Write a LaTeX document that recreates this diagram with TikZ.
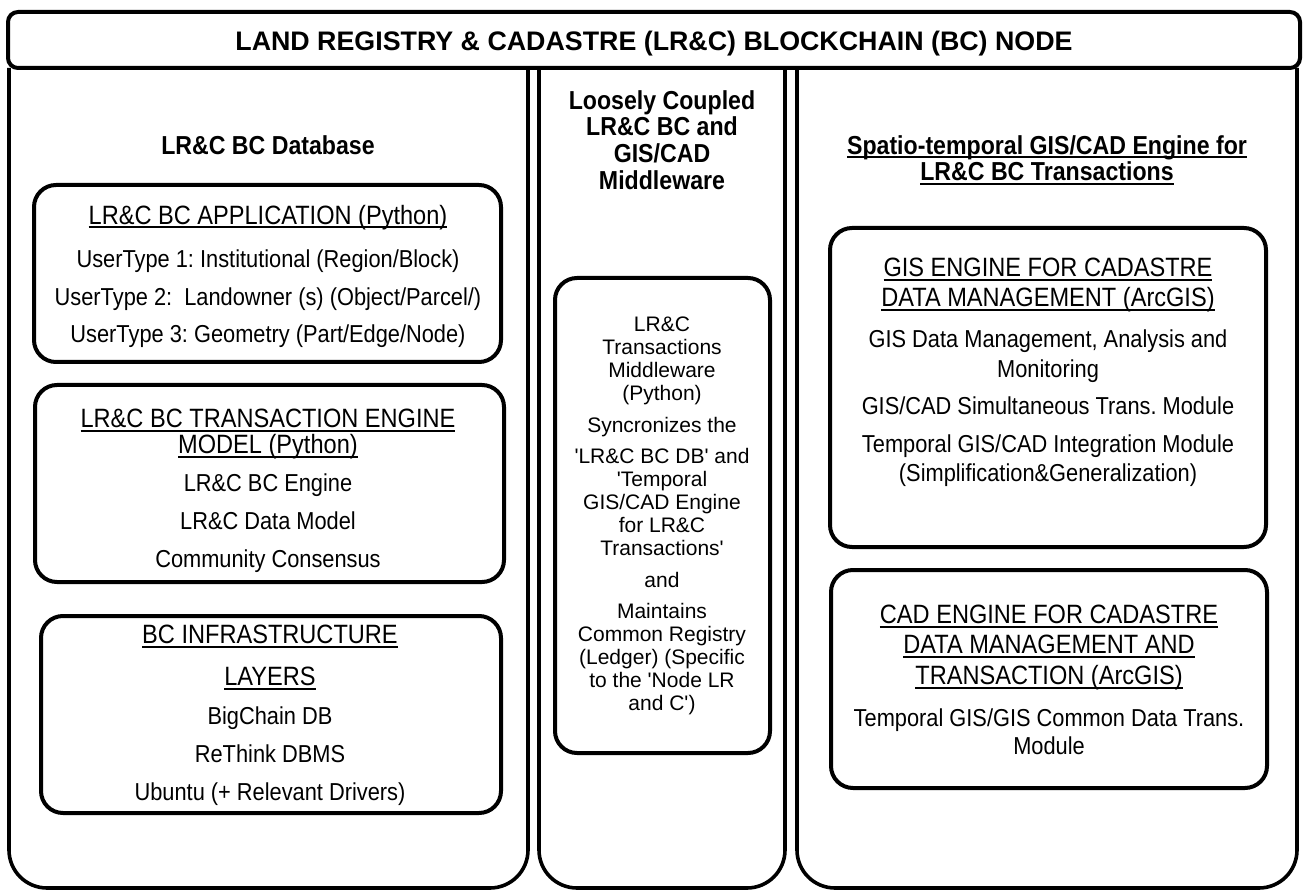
\documentclass[tikz,border=0pt]{standalone}
\usepackage{fontspec}
\setmainfont{Liberation Sans}
\newfontfamily\narrow{Liberation Sans}[FakeStretch=0.89]
\newsavebox\ulbox
\newcommand\uln[1]{\sbox\ulbox{#1}\rlap{\rule[-3.8pt]{\wd\ulbox}{1.8pt}}\usebox\ulbox}
\newcommand\hd[1]{{\fontsize{26.5}{23}\selectfont\uln{#1}}}
\newcommand\sq{\textquotesingle}
\frenchspacing

\begin{document}
\begin{tikzpicture}[x=1pt, y=-1pt,
    every node/.style={inner sep=0pt, align=center},
    frame/.style={draw, line width=4pt, rounded corners=22pt},
    column/.style={draw, line width=3.6pt, rounded corners=38pt},
    body/.style={font=\narrow\fontsize{24.5}{23}\selectfont},
    heading/.style={font=\narrow\bfseries\fontsize{26}{26.7}\selectfont}]

  \useasboundingbox[fill=white] (0,0) rectangle (1307,890);

  % three columns under the title
  \draw[column] (9,68) -- (9,888) -- (528,888) -- (528,68);
  \draw[column] (539,68) -- (539,888) -- (785,888) -- (785,68);
  \draw[column] (797,68) -- (797,888) -- (1297,888) -- (1297,68);

  \node[frame, rounded corners=10pt, minimum width=1292pt, minimum height=56pt,
        text height=21pt, text depth=0pt,
        font=\bfseries\fontsize{26.8}{28}\selectfont] (title) at (654,40)
    {LAND REGISTRY \& CADASTRE (LR\&C) BLOCKCHAIN (BC) NODE};

  % left column
  \node[heading, anchor=north] (dbHead) at (268,135) {LR\&C BC Database};

  \node[frame, minimum width=467pt, minimum height=177pt] (appBox) at (267.5,273.5) {};
  \node[body, anchor=north] (appText) at (268,205)
    {\hd{LR\&C BC APPLICATION (Python)}\\[19pt]
     UserType 1: Institutional (Region/Block)\\[14.5pt]
     UserType 2:~ Landowner (s) (Object/Parcel/)\\[14.5pt]
     UserType 3: Geometry (Part/Edge/Node)};

  \node[frame, minimum width=469pt, minimum height=197pt] (engBox) at (269.5,483.5) {};
  \node[body, anchor=north] (engText) at (268,409)
    {\hd{LR\&C BC TRANSACTION ENGINE}\\[2pt]
     \hd{MODEL (Python)}\\[14pt]
     LR\&C BC Engine\\[15pt]
     LR\&C Data Model\\[15pt]
     Community Consensus};

  \node[frame, minimum width=460pt, minimum height=197pt] (infBox) at (271,714.5) {};
  \node[body, anchor=north] (infText) at (270,625)
    {\hd{BC INFRASTRUCTURE}\\[19pt]
     \hd{LAYERS}\\[16pt]
     BigChain DB\\[15pt]
     ReThink DBMS\\[15pt]
     Ubuntu (+ Relevant Drivers)};

  % middle column
  \node[heading, anchor=north] (mwHead) at (662,90)
    {Loosely Coupled\\ LR\&C BC and\\ GIS/CAD\\ Middleware};

  \node[frame, minimum width=215pt, minimum height=475pt] (mwBox) at (662.5,515.5) {};
  \node[font=\fontsize{21}{23}\selectfont, anchor=north] (mwText) at (662,317)
    {LR\&C\\ Transactions\\ Middleware\\ (Python)\\[9pt]
     Syncronizes the\\[8pt]
     \sq LR\&C BC DB\sq\ and\\ \sq Temporal\\ GIS/CAD Engine\\ for LR\&C\\ Transactions\sq\\[9pt]
     and\\[8pt]
     Maintains\\ Common Registry\\ (Ledger) (Specific\\ to the \sq Node LR\\ and C\sq)};

  % right column
  \node[heading, anchor=north] (gisHead) at (1047,135)
    {\uln{Spatio-temporal GIS/CAD Engine for}\\ \uln{LR\&C BC Transactions}};

  \node[frame, minimum width=436pt, minimum height=319pt] (gisBox) at (1048,387.5) {};
  \node[body, anchor=north] (gisText) at (1048,258)
    {\hd{GIS ENGINE FOR CADASTRE}\\[6pt]
     \hd{DATA MANAGEMENT (ArcGIS)}\\[17pt]
     GIS Data Management, Analysis and\\[7pt]
     Monitoring\\[14pt]
     GIS/CAD Simultaneous Trans. Module\\[15pt]
     Temporal GIS/CAD Integration Module\\[6pt]
     (Simplification\&Generalization)};

  \node[frame, minimum width=436pt, minimum height=218pt] (cadBox) at (1049,679) {};
  \node[body, anchor=north] (cadText) at (1049,605)
    {\hd{CAD ENGINE FOR CADASTRE}\\[7pt]
     \hd{DATA MANAGEMENT AND}\\[7pt]
     \hd{TRANSACTION (ArcGIS)}\\[18pt]
     Temporal GIS/GIS Common Data Trans.\\[5pt]
     Module};

\end{tikzpicture}
\end{document}
